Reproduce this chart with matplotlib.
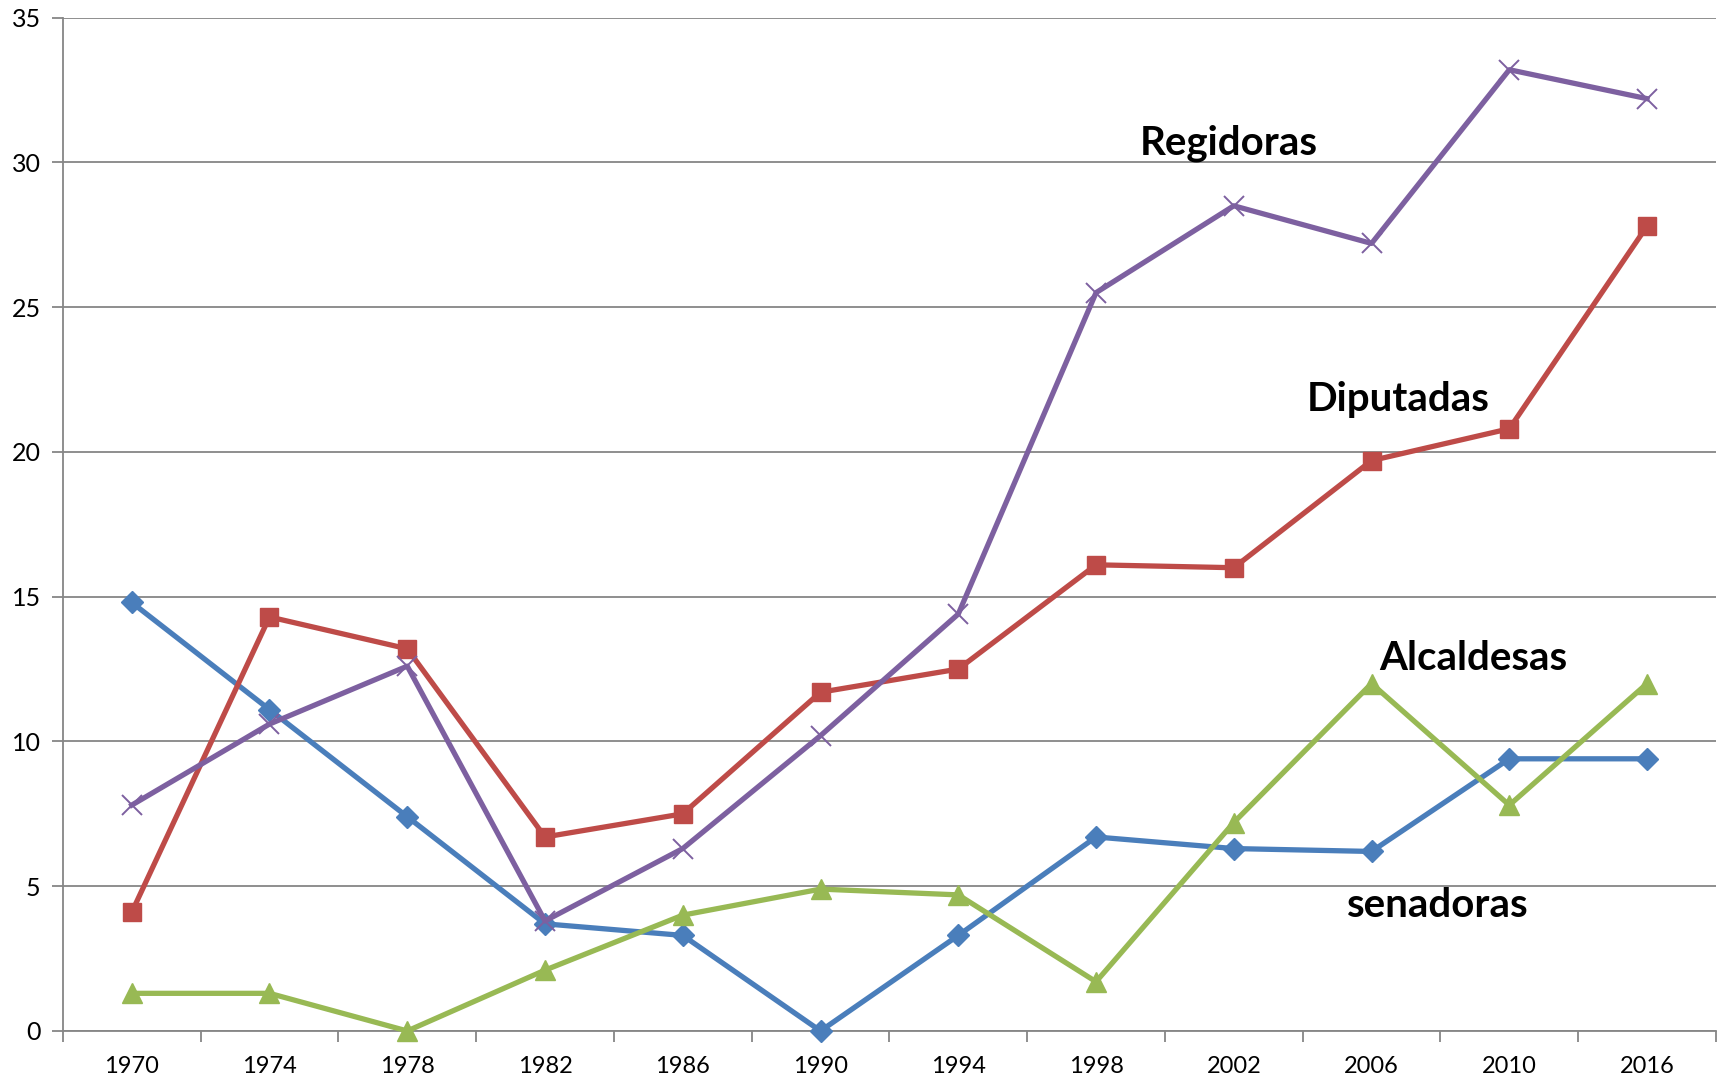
import matplotlib
matplotlib.use("Agg")
import matplotlib.pyplot as plt
import numpy as np

years = ["1970", "1974", "1978", "1982", "1986", "1990", "1994", "1998", "2002", "2006", "2010", "2016"]
senadoras = [14.8, 11.1, 7.4, 3.7, 3.3, 0.0, 3.3, 6.7, 6.3, 6.2, 9.4, 9.4]
diputadas = [4.1, 14.3, 13.2, 6.7, 7.5, 11.7, 12.5, 16.1, 16.0, 19.7, 20.8, 27.8]
alcaldesas = [1.3, 1.3, 0.0, 2.1, 4.0, 4.9, 4.7, 1.7, 7.2, 12.0, 7.8, 12.0]
regidoras = [7.8, 10.6, 12.6, 3.8, 6.3, 10.2, 14.4, 25.5, 28.5, 27.2, 33.2, 32.2]
yticks = [0, 5, 10, 15, 20, 25, 30, 35]

plt.rcParams['font.family'] = ['Lato', 'DejaVu Sans']

fig = plt.figure(figsize=(17.27, 10.8), dpi=100)
ax = fig.add_axes([0.0364, 0.0454, 0.9572, 0.9383])

x = np.arange(len(years))
gray = "#868686"
ax.plot(x, senadoras, color="#4A7EBB", lw=3.8, marker="D", ms=11, zorder=3, clip_on=False)
ax.plot(x, diputadas, color="#BE4B48", lw=3.8, marker="s", ms=13, zorder=3, clip_on=False)
ax.plot(x, alcaldesas, color="#98B954", lw=3.8, marker="^", ms=14, zorder=3, clip_on=False)
ax.plot(x, regidoras, color="#7D60A0", lw=3.8, marker="x", ms=15, mew=1.4, zorder=4, clip_on=False)

ax.set_xlim(-0.5, len(years) - 0.5)
ax.set_ylim(0, 35)
ax.set_yticks(yticks)
ax.set_yticklabels([str(v) for v in yticks], fontsize=18)
ax.set_xticks(x)
ax.set_xticklabels(years, fontsize=17)
ax.set_xticks(np.arange(-0.5, len(years) + 0.5, 1), minor=True)
ax.tick_params(axis='x', which='major', length=0, pad=18)
ax.tick_params(axis='x', which='minor', length=8, width=1.3, color=gray, direction='out')
ax.tick_params(axis='y', which='major', length=8, width=1.3, color=gray, direction='out', pad=8)

ax.grid(axis='y', color=gray, lw=1.3)
ax.set_axisbelow(True)
for s in ['top', 'right']:
    ax.spines[s].set_visible(False)
for s in ['left', 'bottom']:
    ax.spines[s].set_color(gray)
    ax.spines[s].set_linewidth(1.3)

lab = dict(fontsize=29, fontweight='bold', ha='center', va='center', color='black')
ax.text(7.96, 30.66, "Regidoras", **lab)
ax.text(9.19, 21.8, "Diputadas", **lab)
ax.text(9.74, 12.86, "Alcaldesas", **lab)
ax.text(9.48, 4.34, "senadoras", **lab)

fig.savefig("out.png", dpi=100)
